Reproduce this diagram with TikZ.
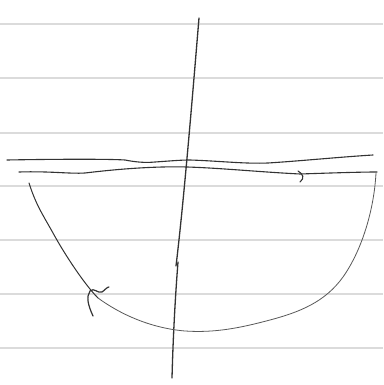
\documentclass[tikz,border=0pt]{standalone}
\begin{document}
\begin{tikzpicture}[x=1pt,y=-1pt,
  rule/.style={draw=black!14,line width=1.2pt},
  pencil/.style={draw=black!80,line width=1.1pt,line cap=round,line join=round},
  faint/.style={draw=black!65,line width=0.8pt,line cap=round,line join=round}]
\useasboundingbox[fill=white] (0,0) rectangle (383,385);
% ruled paper
\foreach \yy in {24,78,133,186,240,294,348}
  \draw[rule] (0,\yy) -- (383,\yy);
% vertical axis
\draw[pencil,line width=1.3pt] (199,18) .. controls (193,90) and (184,200) .. (176,266);
\draw[pencil,line width=1.3pt] (178,262) .. controls (175,300) and (173,340) .. (172,378);
% upper horizontal line
\draw[pencil] (7,160) .. controls (60,159) and (110,159) .. (125,160)
  .. controls (135,162) and (145,163) .. (155,162)
  .. controls (170,161) and (180,160) .. (190,160)
  .. controls (220,161) and (245,164) .. (268,163)
  .. controls (300,161) and (340,157) .. (373,155);
% lower horizontal line with hook arrow
\draw[pencil] (19,172) .. controls (50,171) and (70,174) .. (85,173)
  .. controls (110,170) and (150,166) .. (187,167)
  .. controls (220,168) and (260,172) .. (300,174)
  .. controls (330,173) and (360,172) .. (377,172);
\draw[pencil] (298,171) .. controls (303,174) and (305,178) .. (300,182);
% loop curve
\draw[faint] (376,173) .. controls (374,210) and (362,250) .. (343,277)
  .. controls (325,302) and (300,312) .. (270,320)
  .. controls (240,328) and (215,333) .. (185,331)
  .. controls (150,328) and (120,314) .. (98,298);
\draw[pencil,line width=1pt] (98,298) .. controls (85,285) and (65,255) .. (53,233)
  .. controls (43,215) and (36,205) .. (29,183);
% left hook arrow
\draw[pencil,line width=1.2pt] (93,316) .. controls (88,305) and (86,297) .. (90,291)
  .. controls (94,287) and (98,294) .. (102,292)
  .. controls (105,290) and (107,287) .. (109,287);
\end{tikzpicture}
\end{document}
